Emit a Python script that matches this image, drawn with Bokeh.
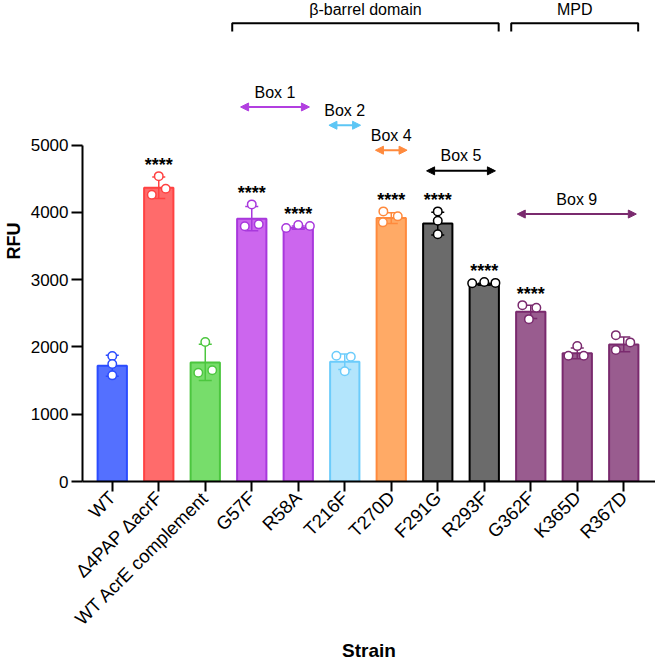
import math
from bokeh.plotting import figure
from bokeh.models import Arrow, NormalHead, FixedTicker, Range1d
from bokeh.embed import file_html
from bokeh.resources import INLINE
from bokeh.core.properties import value

# ---------------- data ----------------
strains = ["WT", "Δ4PAP ΔacrF", "WT AcrE complement", "G57F", "R58A", "T216F",
           "T270D", "F291G", "R293F", "G362F", "K365D", "R367D"]
rfu_mean = [1721, 4368, 1771, 3908, 3774, 1780, 3917, 3834, 2933, 2522, 1905, 2038]
rfu_sd = [155, 160, 270, 180, 25, 115, 80, 170, 15, 100, 80, 110]
rep_a = [1865, 4540, 2073, 4120, 3770, 1869, 4016, 4016, 2948, 2622, 1869, 2176]
rep_b = [1746, 4264, 1617, 3794, 3813, 1855, 3942, 3878, 2967, 2582, 1869, 2068]
rep_c = [1578, 4353, 1653, 3823, 3798, 1638, 3853, 3675, 2953, 2414, 2013, 1954]
# horizontal scatter of the replicate dots (category units)
jit_a = [0, 0, 0, 0, -0.26, -0.18, -0.17, 0, -0.26, -0.18, -0.19, -0.17]
jit_b = [0, -0.15, -0.15, -0.15, 0, 0.13, 0.14, 0, 0, 0.12, 0.14, 0.14]
jit_c = [0, 0.15, 0.15, 0.15, 0.25, 0, -0.18, 0, 0.24, -0.04, 0, -0.17]
significance = ["", "****", "", "****", "****", "", "****", "****", "****", "****", "", ""]
y_ticks = [0, 1000, 2000, 3000, 4000, 5000]

fill_colors = ["#5470ff", "#ff6b6b", "#77dd6b", "#cc66ee", "#cc66ee", "#b3e5fc",
               "#ffaa66", "#6b6b6b", "#6b6b6b", "#995c8f", "#995c8f", "#995c8f"]
line_colors = ["#2b4cff", "#ff4242", "#4cc63f", "#a838dc", "#a838dc", "#6cccfb",
               "#ff8a3d", "#000000", "#000000", "#7a2a6e", "#7a2a6e", "#7a2a6e"]

# domain brackets: (label, first strain, last strain)
domains = [("β-barrel domain", 3, 8), ("MPD", 9, 11)]
# box arrows: (label, first strain, last strain, colour)
boxes = [("Box 1", 3, 4, "#b23fe0"), ("Box 2", 5, 5, "#5cc6f5"),
         ("Box 4", 6, 6, "#ff8a3d"), ("Box 5", 7, 8, "#000000"),
         ("Box 9", 9, 11, "#7a2a6e")]

# ---------------- layout ----------------
W, H = 655, 663
LEFT, BOTTOM = 82, 181
FRAME_W, FRAME_H = W - LEFT, H - BOTTOM
PX_PER_CAT = 46.5
PX_PER_K = 67.4
X0 = -0.64
X1 = X0 + FRAME_W / PX_PER_CAT
Y1 = FRAME_H * 1000.0 / PX_PER_K


def ypx(py):
    return (FRAME_H - py) * 1000.0 / PX_PER_K


FONT = "Liberation Sans"

p = figure(width=W, height=H, output_backend="svg", toolbar_location=None,
           x_range=Range1d(X0, X1), y_range=Range1d(0, Y1),
           min_border_left=LEFT, min_border_right=0, min_border_top=0,
           min_border_bottom=BOTTOM)
p.outline_line_color = None
p.xgrid.visible = False
p.ygrid.visible = False
p.background_fill_color = "white"
p.border_fill_color = "white"

idx = list(range(len(strains)))

# bars
p.vbar(x=idx, top=rfu_mean, bottom=0, width=0.63, fill_color=fill_colors,
       line_color=line_colors, line_width=2)

# error bars (mean ± SD)
cap = 0.14
lo = [m - s for m, s in zip(rfu_mean, rfu_sd)]
hi = [m + s for m, s in zip(rfu_mean, rfu_sd)]
p.segment(x0=idx, y0=lo, x1=idx, y1=hi, line_color=line_colors, line_width=1.5)
p.segment(x0=[i - cap for i in idx], y0=hi, x1=[i + cap for i in idx], y1=hi,
          line_color=line_colors, line_width=1.5)
p.segment(x0=[i - cap for i in idx], y0=lo, x1=[i + cap for i in idx], y1=lo,
          line_color=line_colors, line_width=1.5)

# replicate points
for reps, jit in ((rep_a, jit_a), (rep_b, jit_b), (rep_c, jit_c)):
    p.scatter(x=[i + j for i, j in zip(idx, jit)], y=reps, size=8.5, marker="circle",
              fill_color="white", line_color=line_colors, line_width=1.5)

# significance stars
star_x, star_y, star_t = [], [], []
for i in idx:
    if significance[i]:
        top = max(rep_a[i], rep_b[i], rep_c[i], hi[i])
        star_x.append(i)
        star_y.append(top + 11 * 1000.0 / PX_PER_K)
        star_t.append(significance[i])
p.text(x=star_x, y=star_y, text=star_t, text_align="center", text_baseline="middle",
       text_font=value(FONT), text_font_size="18px", text_font_style="bold",
       text_color="black")

# y axis
p.yaxis.ticker = FixedTicker(ticks=y_ticks)
p.yaxis.bounds = (0, 5000)
p.yaxis.major_label_text_font = FONT
p.yaxis.major_label_text_font_size = "17px"
p.yaxis.major_label_text_color = "black"
p.yaxis.major_tick_out = 11
p.yaxis.major_tick_in = 0
p.yaxis.minor_tick_line_color = None
p.yaxis.axis_line_width = 2
p.yaxis.major_tick_line_width = 2
p.yaxis.major_label_standoff = 3
p.yaxis.axis_label = "RFU"
p.yaxis.axis_label_text_font = FONT
p.yaxis.axis_label_text_font_size = "18px"
p.yaxis.axis_label_text_font_style = "bold"
p.yaxis.axis_label_text_color = "black"
p.yaxis.axis_label_standoff = 4

# x axis
p.xaxis.ticker = FixedTicker(ticks=idx)
p.xaxis.major_label_overrides = {i: s for i, s in enumerate(strains)}
p.xaxis.major_label_orientation = math.pi / 4
p.xaxis.major_label_text_font = FONT
p.xaxis.major_label_text_font_size = "18.5px"
p.xaxis.major_label_text_color = "black"
p.xaxis.major_label_standoff = 3
p.xaxis.major_tick_out = 10
p.xaxis.major_tick_in = 0
p.xaxis.minor_tick_line_color = None
p.xaxis.axis_line_width = 2
p.xaxis.major_tick_line_width = 2
p.xaxis.axis_label = "Strain"
p.xaxis.axis_label_text_font = FONT
p.xaxis.axis_label_text_font_size = "19px"
p.xaxis.axis_label_text_font_style = "bold"
p.xaxis.axis_label_text_color = "black"
p.xaxis.axis_label_standoff = 0

# domain brackets
br_top, br_leg, br_text = ypx(22.7), ypx(31), ypx(9)
for name, a, b in domains:
    xa, xb = a - 0.42, b + 0.31
    p.line(x=[xa, xa, xb, xb], y=[br_leg, br_top, br_top, br_leg], line_color="black",
           line_width=2)
    p.text(x=[(xa + xb) / 2], y=[br_text], text=[name], text_align="center",
           text_baseline="middle", text_font=value(FONT), text_font_size="16px",
           text_color="black")

# box arrows
box_arrow_py = [106.7, 125, 150, 170.7, 214]
for (name, a, b, col), apy in zip(boxes, box_arrow_py):
    if a == b:
        xa, xb = a - 0.34, b + 0.34
    elif name == "Box 9":
        xa, xb = a - 0.29, b + 0.27
    else:
        xa, xb = a - 0.24, b + 0.24
    ya = ypx(apy)
    p.add_layout(Arrow(x_start=xa, y_start=ya, x_end=xb, y_end=ya, line_color=col,
                       line_width=2,
                       start=NormalHead(size=8, fill_color=col, line_color=col, line_width=1),
                       end=NormalHead(size=8, fill_color=col, line_color=col, line_width=1)))
    p.text(x=[(xa + xb) / 2], y=[ypx(apy - 15)], text=[name], text_align="center",
           text_baseline="middle", text_font=value(FONT), text_font_size="16px",
           text_color="black")

open("out.html", "w").write(file_html(p, INLINE))
